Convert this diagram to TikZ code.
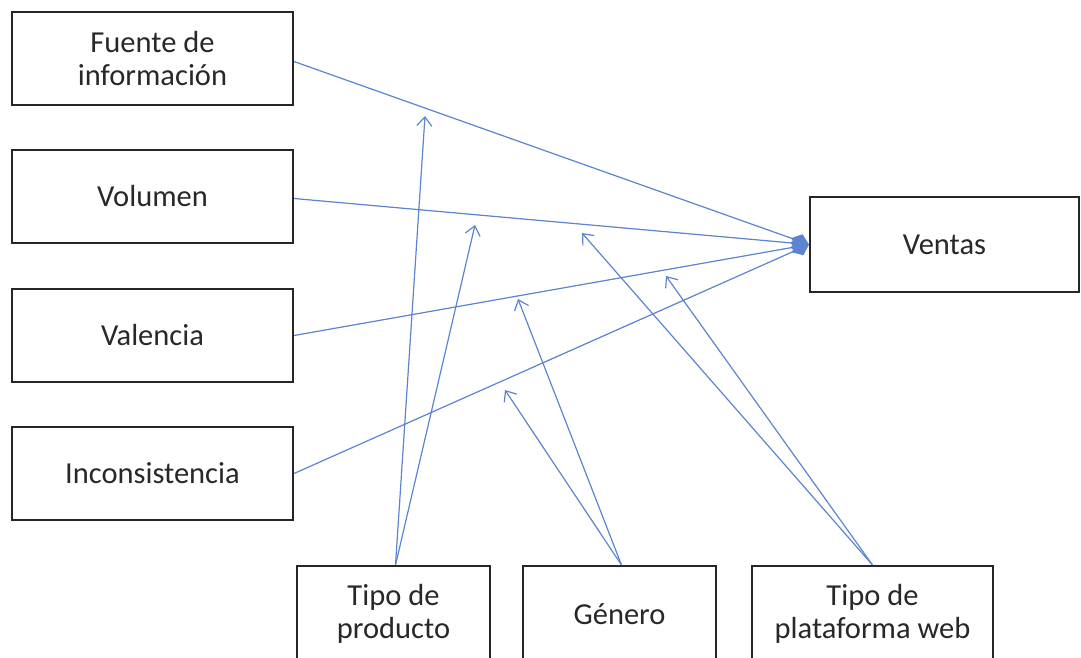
\documentclass[tikz,border=0pt]{standalone}
\usepackage{fontspec}
\setmainfont{Carlito}
\usetikzlibrary{arrows.meta}
\definecolor{linkblue}{RGB}{92,132,208}
\definecolor{textdark}{RGB}{40,40,40}
\begin{document}
\begin{tikzpicture}[x=1pt,y=-1pt,
  box/.style={draw=black!85,line width=2pt,fill=white,inner sep=0pt,
    font=\fontsize{30.5}{33}\selectfont,text=textdark,align=center},
  link/.style={draw=linkblue,line width=1.2pt},
  effect/.style={link,-{Diamond[length=19pt,width=15pt]},fill=linkblue},
  moderate/.style={link,-{Straight Barb[length=9pt,width=15pt,line width=1.2pt]}}]
\useasboundingbox (0,0) rectangle (1081,657);
\begin{scope}
\clip (0,0) rectangle (1081,657);
% predictor boxes on the left
\node[box,minimum width=281pt,minimum height=93pt] (fuente) at (152.5,58.5) {Fuente de\\información};
\node[box,minimum width=281pt,minimum height=93pt] (volumen) at (152.5,196.5) {Volumen};
\node[box,minimum width=281pt,minimum height=93pt] (valencia) at (152.5,335.5) {Valencia};
\node[box,minimum width=281pt,minimum height=93pt] (incons) at (152.5,473.5) {Inconsistencia};
% outcome box
\node[box,minimum width=269pt,minimum height=95pt] (ventas) at (944.5,244.5) {Ventas};
% moderator boxes along the bottom (running past the lower edge)
\node[box,minimum width=193pt,minimum height=96pt] (producto) at (393.5,614) {Tipo de\\producto};
\node[box,minimum width=193pt,minimum height=96pt] (genero) at (619.5,614) {Género};
\node[box,minimum width=241pt,minimum height=96pt] (plataforma) at (872.5,614) {Tipo de\\plataforma web};
\end{scope}
% points the moderating arrows aim at
\coordinate (m1) at (425,116);
\coordinate (m2) at (475,225);
\coordinate (m3) at (518,299);
\coordinate (m4) at (505,390);
\coordinate (m5) at (582,233);
\coordinate (m6) at (666,276);
% direct effects on sales
\draw[effect] (fuente.east) ++(0,3) -- (ventas.west);
\draw[effect] (volumen.east) ++(0,2) -- (ventas.west);
\draw[effect] (valencia.east) -- (ventas.west);
\draw[effect] (incons.east) -- (ventas.west);
% moderating effects
\draw[moderate] (producto.north) ++(2,0) -- (m1);
\draw[moderate] (producto.north) ++(2,0) -- (m2);
\draw[moderate] (genero.north) ++(2,0) -- (m3);
\draw[moderate] (genero.north) ++(2,0) -- (m4);
\draw[moderate] (plataforma.north) -- (m5);
\draw[moderate] (plataforma.north) -- (m6);
\end{tikzpicture}
\end{document}
